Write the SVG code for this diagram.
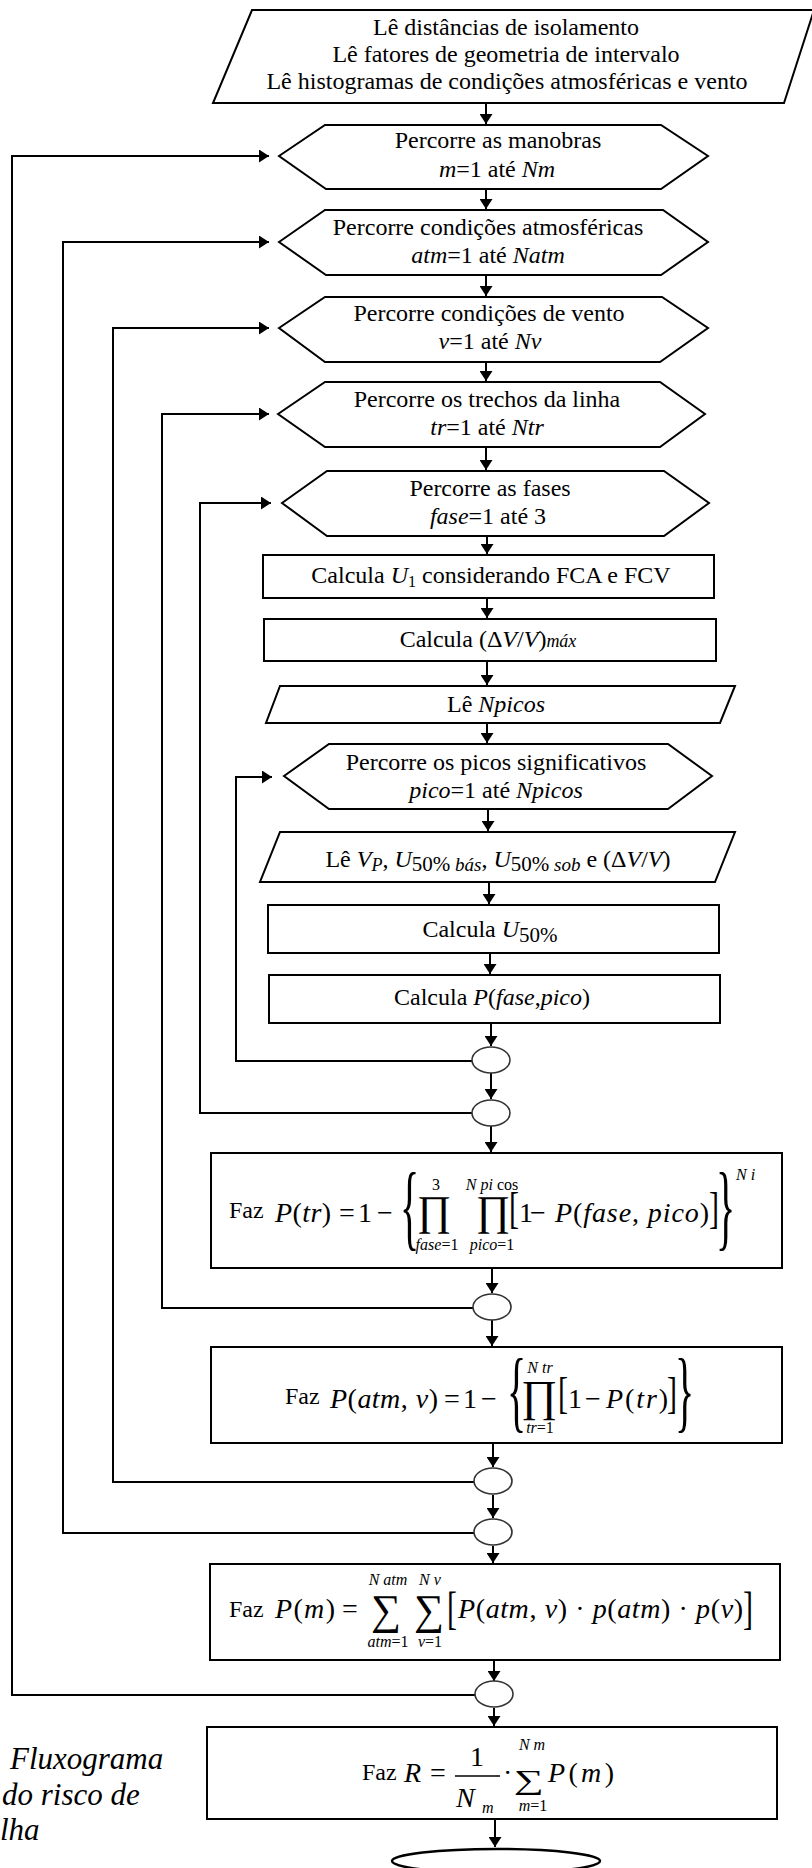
<svg xmlns="http://www.w3.org/2000/svg" width="812" height="1868" viewBox="0 0 812 1868">
<defs>
<marker id="ah" markerUnits="userSpaceOnUse" markerWidth="11" markerHeight="13" refX="10" refY="6.5" orient="auto"><path d="M0,0 L10,6.5 L0,13 z" fill="#000"/></marker>
<style>
.s{fill:#fff;stroke:#000;stroke-width:2}
.c{fill:#fff;stroke:#333;stroke-width:1.6}
.a{fill:none;stroke:#000;stroke-width:2;marker-end:url(#ah)}
.t{font-family:"Liberation Serif","Times New Roman",serif;font-size:24px;fill:#000}
.m{text-anchor:middle}
.i{font-style:italic}
.f{font-family:"Liberation Serif","Times New Roman",serif;font-size:28px;fill:#000}
.sm{font-family:"Liberation Serif","Times New Roman",serif;font-size:16px;fill:#000}
.b{font-family:"Liberation Serif","Times New Roman",serif;fill:#000}
.cap{font-family:"Liberation Serif","Times New Roman",serif;font-size:31px;font-style:italic;fill:#000}
</style>
</defs>
<rect width="812" height="1868" fill="#fff"/>

<g id="connectors">
<line class="a" x1="486" y1="103" x2="486" y2="124"/>
<line class="a" x1="486" y1="190" x2="486" y2="209"/>
<line class="a" x1="486" y1="276" x2="486" y2="296"/>
<line class="a" x1="486" y1="363" x2="486" y2="381"/>
<line class="a" x1="486" y1="448" x2="486" y2="470"/>
<line class="a" x1="487" y1="537" x2="487" y2="554"/>
<line class="a" x1="487" y1="599" x2="487" y2="618"/>
<line class="a" x1="487" y1="662" x2="487" y2="685"/>
<line class="a" x1="487" y1="724" x2="487" y2="743"/>
<line class="a" x1="488" y1="810" x2="488" y2="831"/>
<line class="a" x1="489" y1="883" x2="489" y2="904"/>
<line class="a" x1="490" y1="954" x2="490" y2="974"/>
<line class="a" x1="491" y1="1024" x2="491" y2="1046"/>
<line class="a" x1="491" y1="1073" x2="491" y2="1099"/>
<line class="a" x1="491" y1="1126" x2="491" y2="1152"/>
<line class="a" x1="492" y1="1269" x2="492" y2="1293"/>
<line class="a" x1="492" y1="1320" x2="492" y2="1346"/>
<line class="a" x1="493" y1="1444" x2="493" y2="1467"/>
<line class="a" x1="493" y1="1495" x2="493" y2="1518"/>
<line class="a" x1="493" y1="1546" x2="493" y2="1563"/>
<line class="a" x1="494" y1="1661" x2="494" y2="1681"/>
<line class="a" x1="494" y1="1708" x2="494" y2="1726"/>
<line class="a" x1="495" y1="1820" x2="495" y2="1847"/>
<path class="a" d="M475,1695 H12 V156 H269"/>
<path class="a" d="M474,1533 H63 V242 H269"/>
<path class="a" d="M474,1482 H113 V328 H269"/>
<path class="a" d="M473,1308 H162 V414 H269"/>
<path class="a" d="M472,1113 H200 V503 H271"/>
<path class="a" d="M472,1061 H236 V777 H272"/>
</g>

<g id="read-inputs">
<polygon class="s" points="252,10 814,10 784,103 213,103"/>
<text class="t m" x="506" y="35">Lê distâncias de isolamento</text>
<text class="t m" x="506" y="62">Lê fatores de geometria de intervalo</text>
<text class="t m" x="507" y="89">Lê histogramas de condições atmosféricas e vento</text>
</g>

<g id="loop-manobras">
<polygon class="s" points="279,156 325,125 661,125 708,156 661,189 326,189"/>
<text class="t m" x="498" y="148">Percorre as manobras</text>
<text class="t m" x="497" y="177"><tspan class="i">m</tspan>=1 até <tspan class="i">Nm</tspan></text>
</g>

<g id="loop-atm">
<polygon class="s" points="279,242 325,210 663,210 708,242 661,275 326,275"/>
<text class="t m" x="488" y="235">Percorre condições atmosféricas</text>
<text class="t m" x="488" y="263"><tspan class="i">atm</tspan>=1 até <tspan class="i">Natm</tspan></text>
</g>

<g id="loop-vento">
<polygon class="s" points="279,328 325,297 662,297 708,328 660,362 325,362"/>
<text class="t m" x="489" y="321">Percorre condições de vento</text>
<text class="t m" x="490" y="349"><tspan class="i">v</tspan>=1 até <tspan class="i">Nv</tspan></text>
</g>

<g id="loop-trechos">
<polygon class="s" points="278,414 325,382 660,382 705,414 660,447 325,447"/>
<text class="t m" x="487" y="407">Percorre os trechos da linha</text>
<text class="t m" x="487" y="435"><tspan class="i">tr</tspan>=1 até <tspan class="i">Ntr</tspan></text>
</g>

<g id="loop-fases">
<polygon class="s" points="282,503 327,471 664,471 709,503 664,536 327,536"/>
<text class="t m" x="490" y="496">Percorre as fases</text>
<text class="t m" x="488" y="524"><tspan class="i">fase</tspan>=1 até 3</text>
</g>

<g id="calc-u1">
<rect class="s" x="263" y="555" width="451" height="43"/>
<text class="t m" x="491" y="583">Calcula <tspan class="i">U</tspan><tspan font-size="16" dy="4">1</tspan><tspan dy="-4"> considerando FCA e FCV</tspan></text>
</g>

<g id="calc-dv">
<rect class="s" x="264" y="619" width="452" height="42"/>
<text class="t m" x="488" y="647">Calcula (Δ<tspan class="i">V</tspan>/<tspan class="i">V</tspan>)<tspan class="i" font-size="18">máx</tspan></text>
</g>

<g id="read-npicos">
<polygon class="s" points="280,686 735,686 720,723 266,723"/>
<text class="t m" x="496" y="712">Lê <tspan class="i">Npicos</tspan></text>
</g>

<g id="loop-picos">
<polygon class="s" points="284,776 329,744 668,744 712,776 668,809 329,809"/>
<text class="t m" x="496" y="770">Percorre os picos significativos</text>
<text class="t m" x="496" y="798"><tspan class="i">pico</tspan>=1 até <tspan class="i">Npicos</tspan></text>
</g>

<g id="read-vp">
<polygon class="s" points="280,832 735,832 715,882 260,882"/>
<text class="t m" x="498" y="867">Lê <tspan class="i">V</tspan><tspan class="i" font-size="18" dy="4">P</tspan><tspan dy="-4">, </tspan><tspan class="i">U</tspan><tspan font-size="21" dy="4">50%</tspan><tspan class="i" font-size="19"> bás</tspan><tspan dy="-4">, </tspan><tspan class="i">U</tspan><tspan font-size="21" dy="4">50%</tspan><tspan class="i" font-size="19"> sob</tspan><tspan dy="-4"> e (Δ</tspan><tspan class="i">V</tspan>/<tspan class="i">V</tspan>)</text>
</g>

<g id="calc-u50">
<rect class="s" x="268" y="905" width="451" height="48"/>
<text class="t m" x="490" y="937">Calcula <tspan class="i">U</tspan><tspan font-size="21" dy="5">50%</tspan></text>
</g>

<g id="calc-pfp">
<rect class="s" x="269" y="975" width="451" height="48"/>
<text class="t m" x="492" y="1005">Calcula <tspan class="i">P</tspan>(<tspan class="i">fase</tspan>,<tspan class="i">pico</tspan>)</text>
</g>

<g id="end-picos"><ellipse class="c" cx="491" cy="1060" rx="19" ry="13"/></g>
<g id="end-fases"><ellipse class="c" cx="491" cy="1113" rx="19" ry="13"/></g>

<g id="calc-ptr">
<rect class="s" x="211" y="1153" width="571" height="115"/>
<text class="t" x="229" y="1218">Faz</text>
<text class="f" x="275" y="1222" textLength="56"><tspan class="i">P</tspan>(<tspan class="i">tr</tspan>)</text>
<text class="f" x="339" y="1222">=</text>
<text class="f" x="358" y="1222">1</text>
<text class="f" x="377" y="1222">−</text>
<text class="b" font-size="40" transform="translate(400,1238) scale(1,2.38)">{</text>
<text class="b" font-size="42" x="417" y="1225">∏</text>
<text class="sm m" x="436" y="1190">3</text>
<text class="sm m" x="437" y="1250"><tspan class="i">fase</tspan>=1</text>
<text class="b" font-size="42" x="476" y="1225">∏</text>
<text class="sm m" x="492" y="1190"><tspan class="i">N pi</tspan> cos</text>
<text class="sm m" x="492" y="1250"><tspan class="i">pico</tspan>=1</text>
<text class="b" font-size="30" transform="translate(509,1223) scale(1,1.5)">[</text>
<text class="f" x="519" y="1222">1</text>
<text class="f" x="530" y="1222">−</text>
<text class="f" x="555" y="1222" textLength="154"><tspan class="i">P</tspan>(<tspan class="i">fase</tspan>, <tspan class="i">pico</tspan>)</text>
<text class="b" font-size="30" transform="translate(709,1223) scale(1,1.5)">]</text>
<text class="b" font-size="40" transform="translate(716,1238) scale(1,2.38)">}</text>
<text class="sm i" x="736" y="1180">N i</text>
</g>

<g id="end-trechos"><ellipse class="c" cx="492" cy="1307" rx="19" ry="13"/></g>

<g id="calc-patmv">
<rect class="s" x="211" y="1347" width="571" height="96"/>
<text class="t" x="285" y="1404">Faz</text>
<text class="f" x="330" y="1408" textLength="108"><tspan class="i">P</tspan>(<tspan class="i">atm</tspan>, <tspan class="i">v</tspan>)</text>
<text class="f" x="444" y="1408">=</text>
<text class="f" x="463" y="1408">1</text>
<text class="f" x="481" y="1408">−</text>
<text class="b" font-size="40" transform="translate(507,1421) scale(1,2.3)">{</text>
<text class="b" font-size="44" x="521" y="1411">∏</text>
<text class="sm m i" x="540" y="1373">N tr</text>
<text class="sm m" x="540" y="1433"><tspan class="i">tr</tspan>=1</text>
<text class="b" font-size="30" transform="translate(558,1408) scale(1,1.5)">[</text>
<text class="f" x="568" y="1408">1</text>
<text class="f" x="585" y="1408">−</text>
<text class="f" x="606" y="1408" textLength="62"><tspan class="i">P</tspan>(<tspan class="i">tr</tspan>)</text>
<text class="b" font-size="30" transform="translate(667,1408) scale(1,1.5)">]</text>
<text class="b" font-size="40" transform="translate(675,1421) scale(1,2.3)">}</text>
</g>

<g id="end-vento"><ellipse class="c" cx="493" cy="1481" rx="19" ry="13"/></g>
<g id="end-atm"><ellipse class="c" cx="493" cy="1532" rx="19" ry="13"/></g>

<g id="calc-pm">
<rect class="s" x="210" y="1564" width="570" height="96"/>
<text class="t" x="229" y="1617">Faz</text>
<text class="f" x="275" y="1618" textLength="60"><tspan class="i">P</tspan>(<tspan class="i">m</tspan>)</text>
<text class="f" x="342" y="1618">=</text>
<text class="b" font-size="42" x="371" y="1624">∑</text>
<text class="sm m i" x="388" y="1585">N atm</text>
<text class="sm m" x="388" y="1647"><tspan class="i">atm</tspan>=1</text>
<text class="b" font-size="42" x="414" y="1624">∑</text>
<text class="sm m i" x="430" y="1585">N v</text>
<text class="sm m" x="430" y="1647"><tspan class="i">v</tspan>=1</text>
<text class="b" font-size="30" transform="translate(447,1624) scale(1,1.55)">[</text>
<text class="f" x="458" y="1618" textLength="285"><tspan class="i">P</tspan>(<tspan class="i">atm</tspan>, <tspan class="i">v</tspan>) · <tspan class="i">p</tspan>(<tspan class="i">atm</tspan>) · <tspan class="i">p</tspan>(<tspan class="i">v</tspan>)</text>
<text class="b" font-size="30" transform="translate(743,1624) scale(1,1.55)">]</text>
</g>

<g id="end-manobras"><ellipse class="c" cx="494" cy="1694" rx="19" ry="13"/></g>

<g id="calc-r">
<rect class="s" x="207" y="1727" width="570" height="92"/>
<text class="t" x="362" y="1780">Faz</text>
<text class="f i" x="404" y="1782">R</text>
<text class="f" x="430" y="1782">=</text>
<line x1="455" y1="1776" x2="500" y2="1776" stroke="#000" stroke-width="1.3"/>
<text class="f m" x="477" y="1766">1</text>
<text class="f i" x="456" y="1807">N</text>
<text class="sm i" font-size="14" x="482" y="1813">m</text>
<text class="f" x="503" y="1782">·</text>
<text class="b" font-size="40" transform="translate(514,1789) scale(1.05,0.68)">∑</text>
<text class="sm m i" font-size="14" x="532" y="1750">N m</text>
<text class="sm m" font-size="14" x="533" y="1811"><tspan class="i">m</tspan>=1</text>
<text class="f" x="548" y="1782" textLength="66"><tspan class="i">P</tspan>(<tspan class="i">m</tspan>)</text>
</g>

<g id="fim"><ellipse cx="496" cy="1861" rx="104" ry="12" fill="#fff" stroke="#000" stroke-width="2.5"/></g>

<g id="caption">
<text class="cap" x="10" y="1769">Fluxograma</text>
<text class="cap" x="2" y="1805">do risco de</text>
<text class="cap" x="0" y="1840">lha</text>
</g>
</svg>
